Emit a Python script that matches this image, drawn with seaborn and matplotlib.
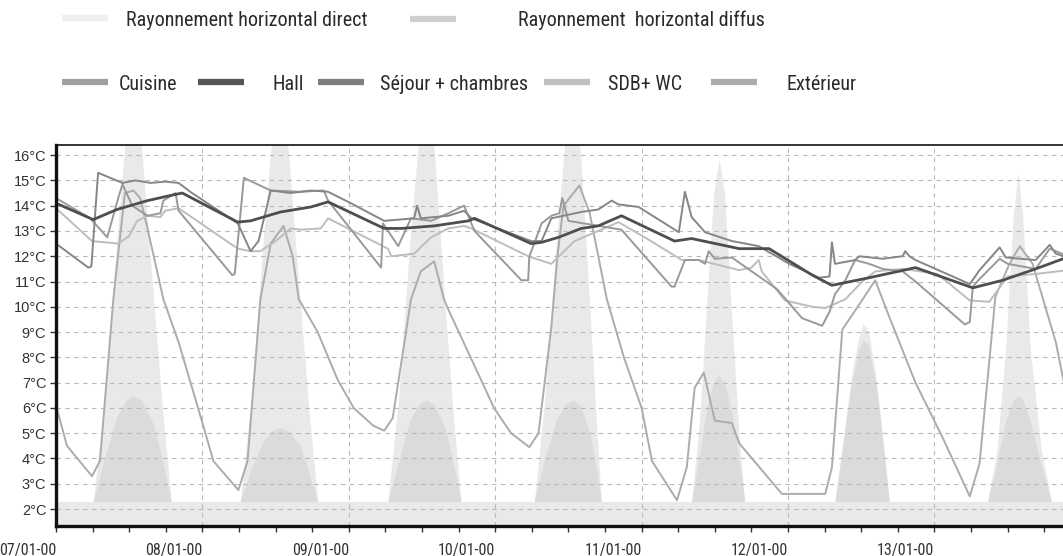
import numpy as np
import pandas as pd
import matplotlib
matplotlib.use("Agg")
import matplotlib.pyplot as plt
import matplotlib.dates as mdates
from matplotlib.lines import Line2D
from matplotlib import font_manager
import seaborn as sns

START = pd.Timestamp("2000-01-07 00:00")
END_HOURS = 165.9

# ---------------------------------------------------------------- data
# Temperatures (hours since 07/01/2000 00:00, °C)
hall_h = [0, 6.1, 10.0, 15.0, 18.7, 20.7, 29.8, 31.9, 36.8, 41.8, 44.6, 53.8, 56.6,
          62.0, 67.6, 68.6, 77.9, 79.6, 82.4, 86.1, 88.9, 92.7, 101.4, 104.2, 112.0,
          116.9, 124.0, 127.2, 133.3, 140.9, 150.3, 155.2, 160.6, 165.1, 165.9]
hall_t = [14.1, 13.45, 13.85, 14.2, 14.4, 14.5, 13.35, 13.4, 13.75, 13.95, 14.15, 13.1, 13.1,
          13.2, 13.4, 13.5, 12.5, 12.55, 12.75, 13.1, 13.2, 13.6, 12.6, 12.7, 12.3,
          12.3, 11.25, 10.85, 11.15, 11.55, 10.75, 11.05, 11.5, 11.9, 11.95]

sejour_h = [0, 5.3, 5.8, 6.9, 10.9, 13.0, 15.5, 17.9, 20.1, 22.0, 29.8, 31.9, 33.2, 35.2,
            38.5, 41.8, 44.6, 48.3, 53.8, 58.7, 59.2, 59.8, 64.3, 66.9, 68.1, 77.9, 79.6,
            81.2, 86.1, 88.9, 91.1, 92.2, 95.5, 102.1, 103.1, 104.2, 106.4, 110.8, 115.2,
            120.2, 125.1, 126.8, 127.2, 127.7, 131.0, 131.7, 135.5, 138.8, 139.2, 139.9,
            140.9, 149.8, 151.4, 154.7, 155.7, 160.6, 162.9, 163.9, 165.9]
sejour_t = [12.5, 11.55, 11.6, 15.3, 14.9, 15.0, 14.9, 14.95, 14.9, 14.55, 13.3, 12.2, 12.6, 14.6,
            14.5, 14.6, 14.55, 14.1, 13.4, 13.5, 14.0, 13.5, 13.6, 13.8, 13.5, 12.6, 12.6,
            13.5, 13.75, 13.85, 14.2, 14.05, 13.95, 12.95, 14.55, 13.55, 12.95, 12.6, 12.4,
            11.7, 11.15, 11.2, 12.55, 11.7, 11.85, 12.0, 11.9, 12.0, 12.2, 12.0,
            11.85, 10.9, 11.45, 12.35, 11.95, 11.85, 12.45, 12.1, 11.95]

cuisine_h = [0, 5.6, 8.4, 10.2, 10.9, 12.5, 15.0, 17.1, 17.6, 19.6, 20.1, 28.9, 29.3, 30.8,
             35.2, 40.1, 43.9, 44.6, 53.3, 53.6, 56.1, 58.2, 61.5, 64.3, 66.9, 68.6, 76.3,
             77.4, 77.6, 78.4, 79.6, 81.2, 82.5, 83.0, 84.0, 92.7, 100.9, 101.4, 103.1,
             105.4, 106.4, 107.0, 108.0, 110.8, 118.2, 122.3, 125.6, 126.8, 127.7, 129.4,
             131.0, 133.3, 135.5, 138.8, 140.9, 149.0, 149.8, 150.3, 151.4, 154.7, 156.0,
             160.6, 162.9, 165.9]
cuisine_t = [14.3, 13.5, 12.75, 14.3, 14.85, 14.0, 13.6, 13.7, 14.2, 14.5, 13.8, 11.25, 11.3, 15.1,
             14.6, 14.55, 14.6, 14.2, 11.55, 13.3, 12.4, 13.5, 13.4, 13.7, 14.0, 13.0, 11.05,
             11.05, 12.0, 12.5, 13.3, 13.6, 13.7, 14.3, 13.4, 13.05, 10.8, 10.8, 11.85,
             11.85, 11.7, 12.2, 11.9, 11.95, 10.7, 9.55, 9.25, 9.8, 10.5, 11.05,
             11.85, 11.7, 11.5, 11.4, 11.0, 9.3, 9.4, 10.8, 11.1, 11.9, 11.7,
             11.5, 12.3, 12.0]

sdb_h = [0, 5.9, 10.2, 12.0, 13.3, 15.0, 17.1, 17.9, 20.1, 29.8, 31.9, 33.5, 36.0, 38.5,
         40.1, 43.4, 44.6, 54.4, 55.0, 58.7, 61.5, 64.3, 66.9, 68.1, 77.4, 81.2, 85.0,
         88.9, 92.2, 96.5, 102.6, 105.4, 112.0, 114.0, 115.2, 115.7, 119.5, 124.0, 126.1,
         129.4, 132.2, 134.3, 138.8, 144.5, 149.8, 153.0, 156.0, 160.6, 165.9]
sdb_t = [13.9, 12.6, 12.5, 12.8, 13.4, 13.6, 13.55, 13.8, 13.9, 12.3, 12.2, 12.2, 12.6, 13.1,
         13.05, 13.1, 13.5, 12.3, 12.0, 12.1, 12.75, 13.1, 13.2, 13.1, 12.0, 11.7, 12.6,
         13.0, 13.35, 12.75, 11.85, 11.85, 11.45, 11.55, 11.85, 11.4, 10.25, 10.0, 9.95,
         10.3, 11.0, 11.4, 11.5, 11.3, 10.25, 10.2, 11.2, 11.3, 11.45]

ext_h = [0, 1.8, 5.9, 7.2, 9.4, 10.2, 11.3, 12.7, 13.8, 15.0, 16.3, 17.6, 20.1, 24.2, 25.8,
         29.9, 31.4, 33.5, 35.2, 37.3, 38.8, 39.8, 42.9, 46.2, 48.8, 52.0, 53.8, 55.2, 58.2,
         59.8, 62.0, 63.6, 64.3, 69.7, 71.8, 74.6, 77.6, 79.1, 81.2, 82.2, 83.2, 85.8, 87.5,
         90.3, 93.1, 96.0, 97.7, 101.8, 103.4, 104.7, 106.2, 108.0, 110.8, 112.0, 119.0,
         126.1, 127.2, 128.9, 131.7, 134.3, 136.6, 140.9, 145.3, 149.8, 151.4, 154.0, 156.3,
         158.0, 160.1, 163.9, 165.9]
ext_t = [6.1, 4.5, 3.3, 3.9, 10.3, 12.1, 14.5, 14.6, 14.3, 13.1, 11.7, 10.3, 8.6, 5.25, 3.9,
         2.75, 3.9, 10.3, 12.5, 13.2, 12.0, 10.3, 9.0, 7.1, 6.0, 5.3, 5.1, 5.6, 10.3,
         11.4, 11.8, 10.3, 9.9, 7.1, 6.0, 5.0, 4.45, 5.0, 9.2, 12.0, 14.0, 14.8, 13.7,
         10.3, 8.0, 6.0, 3.9, 2.35, 3.65, 6.8, 7.4, 5.5, 5.4, 4.6, 2.6,
         2.6, 3.65, 9.1, 10.1, 11.05, 9.6, 7.0, 4.85, 2.5, 3.8, 10.4, 11.7,
         12.4, 11.7, 8.6, 6.2]

# Horizontal solar radiation (hours since start, W/m²)
rad_h = [0,
         6.1, 8.0, 10.0, 11.5, 12.5, 14.0, 16.0, 17.5, 18.9,
         30.2, 32.0, 34.0, 35.5, 36.5, 38.0, 40.0, 41.5, 42.9,
         54.4, 56.2, 58.0, 59.5, 60.7, 62.0, 63.8, 65.2, 66.4,
         78.4, 80.0, 82.0, 83.5, 84.8, 86.0, 87.5, 88.5, 89.4,
         104.2, 105.5, 106.8, 107.8, 108.7, 109.6, 110.8, 111.9, 112.9,
         127.7, 129.0, 130.3, 131.5, 132.3, 133.2, 134.5, 135.6, 136.6,
         152.7, 154.2, 155.7, 156.9, 157.7, 158.5, 159.7, 161.5, 163.2,
         165.9]
rad_direct = [0,
              0, 250, 650, 920, 1000, 880, 500, 220, 0,
              0, 250, 650, 920, 1000, 880, 500, 220, 0,
              0, 260, 640, 900, 980, 870, 480, 200, 0,
              0, 230, 640, 900, 990, 860, 480, 220, 0,
              0, 200, 520, 760, 845, 760, 450, 180, 0,
              0, 150, 300, 400, 440, 420, 300, 150, 0,
              0, 120, 380, 700, 815, 700, 380, 130, 0,
              0]
rad_diffuse = [0,
               0, 110, 210, 250, 262, 250, 190, 100, 0,
               0, 80, 150, 175, 182, 175, 140, 70, 0,
               0, 100, 200, 240, 250, 240, 180, 90, 0,
               0, 100, 200, 240, 250, 235, 170, 90, 0,
               0, 120, 240, 295, 312, 290, 220, 110, 0,
               0, 140, 280, 370, 400, 385, 280, 140, 0,
               0, 90, 200, 250, 262, 250, 200, 90, 0,
               0]

y_ticks = list(range(2, 17))

# ---------------------------------------------------------------- style
sns.set_theme(style="white")
installed = {f.name for f in font_manager.fontManager.ttflist}


def pick(*names):
    for n in names:
        if n in installed:
            return n
    return "DejaVu Sans"


NARROW = pick("Liberation Sans Narrow", "Arial Narrow", "Roboto Condensed", "Liberation Sans")
REGULAR = pick("Liberation Sans", "Arial", "DejaVu Sans")
plt.rcParams["font.family"] = [REGULAR, "DejaVu Sans"]

to_time = lambda hours: START + pd.to_timedelta(np.asarray(hours, dtype=float), unit="h")

series = [
    ("Extérieur", ext_h, ext_t, "#acacac", 1.4),
    ("SDB+ WC", sdb_h, sdb_t, "#bdbdbd", 1.4),
    ("Cuisine", cuisine_h, cuisine_t, "#999999", 1.4),
    ("Séjour + chambres", sejour_h, sejour_t, "#868686", 1.4),
    ("Hall", hall_h, hall_t, "#4e4e4e", 2.0),
]

# ---------------------------------------------------------------- figure
W, H = 1063, 556
fig = plt.figure(figsize=(W / 100, H / 100), dpi=100)
fig.patch.set_facecolor("white")
ax = fig.add_axes([56 / W, 30 / H, 1012 / W, 381 / H])
ax_rad = ax.twinx()
ax.set_zorder(ax_rad.get_zorder() + 1)
ax.patch.set_visible(False)

# radiation areas behind the temperatures
rad_time = to_time(rad_h)
RAD_LOW, RAD_HIGH = -60.6, 880
ax_rad.fill_between(rad_time, RAD_LOW, rad_direct, color="#e9e9e9", lw=0)
ax_rad.fill_between(rad_time, 0, rad_diffuse, color="#dbdbdb", lw=0)
ax_rad.set_ylim(RAD_LOW, RAD_HIGH)
ax_rad.set_yticks([])
for s in ax_rad.spines.values():
    s.set_visible(False)

for name, hrs, temps, col, lw in series:
    assert len(hrs) == len(temps), name
    df = pd.DataFrame({"time": to_time(hrs), "temp": temps})
    sns.lineplot(data=df, x="time", y="temp", ax=ax, color=col, lw=lw,
                 legend=False, estimator=None, sort=False)

ax.set_xlim(START, START + pd.Timedelta(hours=END_HOURS))
ax.set_ylim(1.33, 16.4)
ax.set_xlabel("")
ax.set_ylabel("")

ax.grid(True, which="major", axis="both", color="#b8b8b8", lw=0.8, ls=(0, (4, 4)))
ax.set_axisbelow(True)

ax.set_yticks(y_ticks)
ax.set_yticklabels([f"{v}°C" for v in y_ticks], fontsize=10.5, color="#333333",
                   family=[REGULAR, "DejaVu Sans"])
ax.xaxis.set_major_locator(mdates.DayLocator())
ax.xaxis.set_major_formatter(mdates.DateFormatter("%d/%m-%y"))
ax.xaxis.set_minor_locator(mdates.HourLocator(byhour=[6, 12, 18]))
ax.tick_params(axis="y", left=True, length=4, width=1, color="#333333", pad=3)
ax.tick_params(axis="x", which="both", bottom=True, length=4, width=1, color="#333333", pad=8)
for lab in ax.get_xticklabels():
    lab.set_ha("right")
    lab.set_fontfamily([NARROW, "DejaVu Sans"])
    lab.set_fontsize(11.5)
    lab.set_color("#333333")

for side in ("left", "bottom"):
    ax.spines[side].set_color("#111111")
    ax.spines[side].set_linewidth(2.4)
ax.spines["top"].set_color("#111111")
ax.spines["top"].set_linewidth(1.2)
ax.spines["right"].set_visible(False)

# ---------------------------------------------------------------- legend
LEG_FS = 14.5
fs_px = LEG_FS * 100 / 72


def legend_entry(label, color, x_px, y_px, gap_px, width_px=46, lw=4.5):
    handle = Line2D([], [], color=color, lw=lw, solid_capstyle="butt")
    leg = fig.legend(handles=[handle], labels=[label], loc="center left",
                     bbox_to_anchor=(x_px / W, 1 - y_px / H), bbox_transform=fig.transFigure,
                     frameon=False, borderpad=0, borderaxespad=0,
                     handlelength=width_px / fs_px, handletextpad=gap_px / fs_px,
                     prop={"family": [NARROW, "DejaVu Sans"], "size": LEG_FS})
    for t in leg.get_texts():
        t.set_color("#2a2a2a")
    return leg


legend_entry("Rayonnement horizontal direct", "#efefef", 62, 20, 18)
legend_entry("Rayonnement  horizontal diffus", "#cfcfcf", 410, 20, 62)
legend_entry("Cuisine", "#a0a0a0", 62, 84, 11)
legend_entry("Hall", "#555555", 198, 84, 29)
legend_entry("Séjour + chambres", "#7f7f7f", 318, 84, 16)
legend_entry("SDB+ WC", "#c0c0c0", 544, 84, 18)
legend_entry("Extérieur", "#ababab", 711, 84, 30)

fig.savefig("out.png", dpi=100, facecolor="white")
